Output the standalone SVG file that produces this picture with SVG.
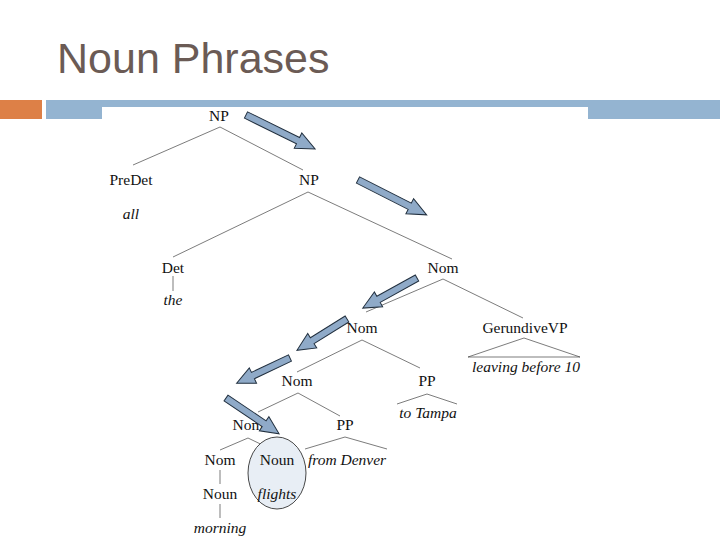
<svg xmlns="http://www.w3.org/2000/svg" width="720" height="540" viewBox="0 0 720 540">
<style>
.t{font-family:"Liberation Serif","Times New Roman",serif;font-size:15.5px;fill:#111;text-anchor:middle}
.i{font-style:italic}
.e{stroke:#444;stroke-width:0.7;fill:none}
.a{fill:#8faac8;stroke:#22303f;stroke-width:1;stroke-linejoin:miter}
</style>
<rect width="720" height="540" fill="#fff"/>
<text x="57" y="73" font-family="Liberation Sans, Arial, sans-serif" font-size="43" fill="#6b5b55">Noun Phrases</text>
<rect x="0" y="100" width="42" height="19" fill="#dd8047"/>
<rect x="46" y="100" width="674" height="19" fill="#94b4d1"/>
<rect x="102" y="107" width="486" height="13" fill="#fff"/>

<g id="connectors" class="e">
<polyline points="133,165 220,127 303,170"/>
<polyline points="173,257 308,192 452,259"/>
<line x1="173" y1="276" x2="173" y2="291"/>
<polyline points="366,312 443,279 523,318"/>
<polyline points="297,372 362,340 420,368"/>
<polyline points="468,357 524,338 580,357"/>
<line x1="468" y1="357" x2="580" y2="357"/>
<polyline points="397,404 427,394 457,404"/>
<polyline points="258,412 298,393 340,416"/>
<polyline points="220,450 248,438 277,452"/>
<polyline points="305,449 345,437 387,449"/>
<line x1="220" y1="470" x2="220" y2="484"/>
<line x1="277" y1="470" x2="277" y2="484"/>
<line x1="220" y1="504" x2="220" y2="518"/>
</g>

<g id="highlight"><ellipse cx="277" cy="473" rx="29" ry="36" fill="#e8eef5" stroke="#333" stroke-width="0.9"/></g>

<g id="np1"><text class="t" x="219" y="121">NP</text></g>
<g id="predet"><text class="t" x="131" y="185">PreDet</text></g>
<g id="all"><text class="t i" x="131" y="219">all</text></g>
<g id="np2"><text class="t" x="309" y="185">NP</text></g>
<g id="det"><text class="t" x="173" y="273">Det</text></g>
<g id="the"><text class="t i" x="173" y="305">the</text></g>
<g id="nom1"><text class="t" x="443" y="273">Nom</text></g>
<g id="nom2"><text class="t" x="362" y="333">Nom</text></g>
<g id="gerundivevp"><text class="t" x="525" y="333">GerundiveVP</text></g>
<g id="leaving"><text class="t i" x="526" y="372">leaving before 10</text></g>
<g id="nom3"><text class="t" x="297" y="386">Nom</text></g>
<g id="pp1"><text class="t" x="427" y="386">PP</text></g>
<g id="totampa"><text class="t i" x="428" y="418">to Tampa</text></g>
<g id="nom4"><text class="t" x="248" y="430">Nom</text></g>
<g id="pp2"><text class="t" x="345" y="430">PP</text></g>
<g id="nom5"><text class="t" x="220" y="465">Nom</text></g>
<g id="noun1"><text class="t" x="277" y="465">Noun</text></g>
<g id="fromdenver"><text class="t i" x="347" y="465">from Denver</text></g>
<g id="noun2"><text class="t" x="220" y="499">Noun</text></g>
<g id="flights"><text class="t i" x="277" y="499">flights</text></g>
<g id="morning"><text class="t i" x="220" y="533">morning</text></g>

<g id="arrows">
<path class="a" transform="translate(246,115) rotate(26.2)" d="M0,-3.5 L58,-3.5 L58,-8.5 L77,0 L58,8.5 L58,3.5 L0,3.5 Z"/>
<path class="a" transform="translate(358,180) rotate(26.9)" d="M0,-3.5 L58,-3.5 L58,-8.5 L77,0 L58,8.5 L58,3.5 L0,3.5 Z"/>
<path class="a" transform="translate(417,278) rotate(151)" d="M0,-3.5 L44,-3.5 L44,-8.5 L62,0 L44,8.5 L44,3.5 L0,3.5 Z"/>
<path class="a" transform="translate(347,319) rotate(148)" d="M0,-3.5 L41,-3.5 L41,-8.5 L59,0 L41,8.5 L41,3.5 L0,3.5 Z"/>
<path class="a" transform="translate(290,358) rotate(154.7)" d="M0,-3.5 L41,-3.5 L41,-8.5 L59,0 L41,8.5 L41,3.5 L0,3.5 Z"/>
<path class="a" transform="translate(226,398) rotate(34)" d="M0,-3.5 L46,-3.5 L46,-8.5 L64,0 L46,8.5 L46,3.5 L0,3.5 Z"/>
</g>
</svg>
